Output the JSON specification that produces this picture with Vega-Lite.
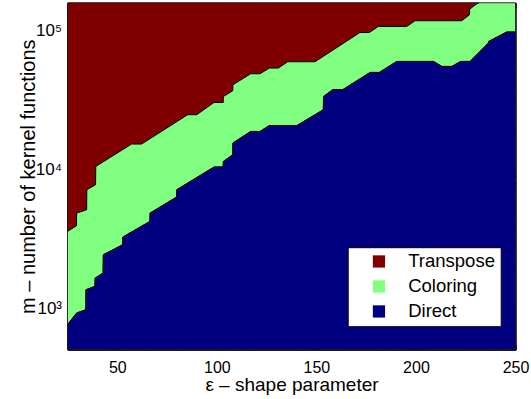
{
  "$schema": "https://vega.github.io/schema/vega-lite/v6.json",
  "width": 448,
  "height": 347,
  "autosize": {"type": "none"},
  "padding": {"left": 67.5, "top": 2.7, "right": 15.5, "bottom": 49.3},
  "config": {
    "font": "Liberation Sans",
    "view": {"stroke": "black", "strokeWidth": 1},
    "axis": {"domainColor": "black", "tickColor": "black", "labelColor": "black", "titleColor": "black", "grid": false, "titleFontWeight": "normal"}
  },
  "datasets": {
    "lower": [
      {"eps": 25, "m": 758},
      {"eps": 29.57, "m": 920},
      {"eps": 34.2, "m": 972},
      {"eps": 34.3, "m": 1355},
      {"eps": 38.8, "m": 1431},
      {"eps": 38.9, "m": 1644},
      {"eps": 42.9, "m": 1787},
      {"eps": 43.0, "m": 2421},
      {"eps": 52.7, "m": 2858},
      {"eps": 52.8, "m": 3247},
      {"eps": 66.4, "m": 4206},
      {"eps": 66.5, "m": 4835},
      {"eps": 79.8, "m": 6304},
      {"eps": 79.9, "m": 7117},
      {"eps": 98.6, "m": 10370},
      {"eps": 103.2, "m": 10370},
      {"eps": 103.3, "m": 11380},
      {"eps": 108.0, "m": 12720},
      {"eps": 108.1, "m": 15450},
      {"eps": 117.0, "m": 18720},
      {"eps": 121.7, "m": 18720},
      {"eps": 126.2, "m": 20580},
      {"eps": 140.1, "m": 20580},
      {"eps": 153.5, "m": 26840},
      {"eps": 153.6, "m": 33450},
      {"eps": 158.2, "m": 37400},
      {"eps": 163.2, "m": 37400},
      {"eps": 177.0, "m": 49830},
      {"eps": 181.6, "m": 49830},
      {"eps": 190.4, "m": 59800},
      {"eps": 208.8, "m": 59800},
      {"eps": 213.0, "m": 55040},
      {"eps": 218.0, "m": 55040},
      {"eps": 222.5, "m": 59800},
      {"eps": 227.2, "m": 59800},
      {"eps": 236.4, "m": 81170},
      {"eps": 236.5, "m": 83320},
      {"eps": 245.6, "m": 97380},
      {"eps": 250, "m": 97380}
    ],
    "upper": [
      {"eps": 25, "m": 3565},
      {"eps": 29.5, "m": 3917},
      {"eps": 29.6, "m": 4833},
      {"eps": 34.6, "m": 5107},
      {"eps": 34.7, "m": 7117},
      {"eps": 39.1, "m": 7731},
      {"eps": 39.2, "m": 10475},
      {"eps": 57.2, "m": 15190},
      {"eps": 62.2, "m": 15190},
      {"eps": 85.35, "m": 24700},
      {"eps": 89.9, "m": 24700},
      {"eps": 98.6, "m": 30290},
      {"eps": 103.2, "m": 30290},
      {"eps": 103.3, "m": 33450},
      {"eps": 108.0, "m": 36780},
      {"eps": 108.1, "m": 40620},
      {"eps": 117.0, "m": 48760},
      {"eps": 121.7, "m": 48760},
      {"eps": 126.4, "m": 53580},
      {"eps": 130.9, "m": 53580},
      {"eps": 135.6, "m": 59500},
      {"eps": 149.3, "m": 59500},
      {"eps": 171.9, "m": 96740},
      {"eps": 176.6, "m": 96740},
      {"eps": 181.1, "m": 106900},
      {"eps": 195.4, "m": 106900},
      {"eps": 199.6, "m": 117500},
      {"eps": 223.0, "m": 117500},
      {"eps": 226.9, "m": 129700},
      {"eps": 227.0, "m": 142600},
      {"eps": 230.6, "m": 155700},
      {"eps": 231.7, "m": 158489}
    ]
  },
  "layer": [
    {
      "layer": [
        {
          "data": {"name": "lower"},
          "mark": {"type": "area", "stroke": "black", "strokeWidth": 1, "clip": true},
          "encoding": {
            "x": {"field": "eps", "type": "quantitative",
              "scale": {"domain": [25, 250], "nice": false, "zero": false},
              "axis": {"values": [50, 100, 150, 200, 250], "title": "ε – shape parameter", "labelFontSize": 16, "titleFontSize": 19, "tickSize": -5, "labelPadding": 27.5, "labelBaseline": "alphabetic", "labelFlush": false, "titleX": 224, "titleY": 41, "titleBaseline": "alphabetic"}},
            "y": {"field": "m", "type": "quantitative",
              "scale": {"type": "log", "domain": [501, 158489], "nice": false},
              "axis": {"values": [600, 700, 800, 900, 1000, 2000, 3000, 4000, 5000, 6000, 7000, 8000, 9000, 10000, 20000, 30000, 40000, 50000, 60000, 70000, 80000, 90000, 100000],
                "labelExpr": "datum.value == 1000 ? '10³' : datum.value == 10000 ? '10⁴' : datum.value == 100000 ? '10⁵' : ''",
                "title": "m – number of kernel functions", "labelFontSize": 17, "titleFontSize": 20, "tickSize": -4, "labelPadding": 10, "titleX": -33.5, "titleY": 173.5, "titleBaseline": "alphabetic", "titleAngle": -90, "titleAlign": "center"}},
            "y2": {"datum": 158489},
            "color": {"datum": "Coloring", "type": "nominal",
              "scale": {"domain": ["Transpose", "Coloring", "Direct"], "range": ["#800000", "#80ff80", "#000080"]},
              "legend": {"title": null, "orient": "none", "legendX": 280.2, "legendY": 244.5, "symbolType": "square", "symbolSize": 150, "symbolStrokeWidth": 0, "symbolOpacity": 1, "labelFontSize": 18.5, "labelFont": "Liberation Sans", "labelColor": "black", "fillColor": "white", "strokeColor": "black", "padding": 5, "symbolOffset": 17, "labelOffset": 20, "rowPadding": 6, "cornerRadius": 0}}
          }
        },
        {
          "data": {"name": "upper"},
          "mark": {"type": "area", "stroke": "black", "strokeWidth": 1, "clip": true},
          "encoding": {
            "x": {"field": "eps", "type": "quantitative"},
            "y": {"field": "m", "type": "quantitative"},
            "y2": {"datum": 158489},
            "color": {"datum": "Transpose", "type": "nominal"}
          }
        },
        {
          "data": {"name": "lower"},
          "mark": {"type": "area", "stroke": "black", "strokeWidth": 1, "clip": true},
          "encoding": {
            "x": {"field": "eps", "type": "quantitative"},
            "y": {"field": "m", "type": "quantitative"},
            "y2": {"datum": 501},
            "color": {"datum": "Direct", "type": "nominal"}
          }
        }
      ]
    },
    {
      "data": {"name": "lower"},
      "mark": {"type": "point", "opacity": 0},
      "encoding": {
        "x": {"field": "eps", "type": "quantitative",
          "axis": {"orient": "top", "values": [50, 100, 150, 200, 250], "labels": false, "title": null, "tickSize": -5, "domain": true}},
        "y": {"field": "m", "type": "quantitative",
          "axis": {"orient": "right", "values": [600, 700, 800, 900, 1000, 2000, 3000, 4000, 5000, 6000, 7000, 8000, 9000, 10000, 20000, 30000, 40000, 50000, 60000, 70000, 80000, 90000, 100000], "labels": false, "title": null, "tickSize": -4, "domain": true}}
      }
    }
  ],
  "resolve": {"axis": {"x": "independent", "y": "independent"}}
}
